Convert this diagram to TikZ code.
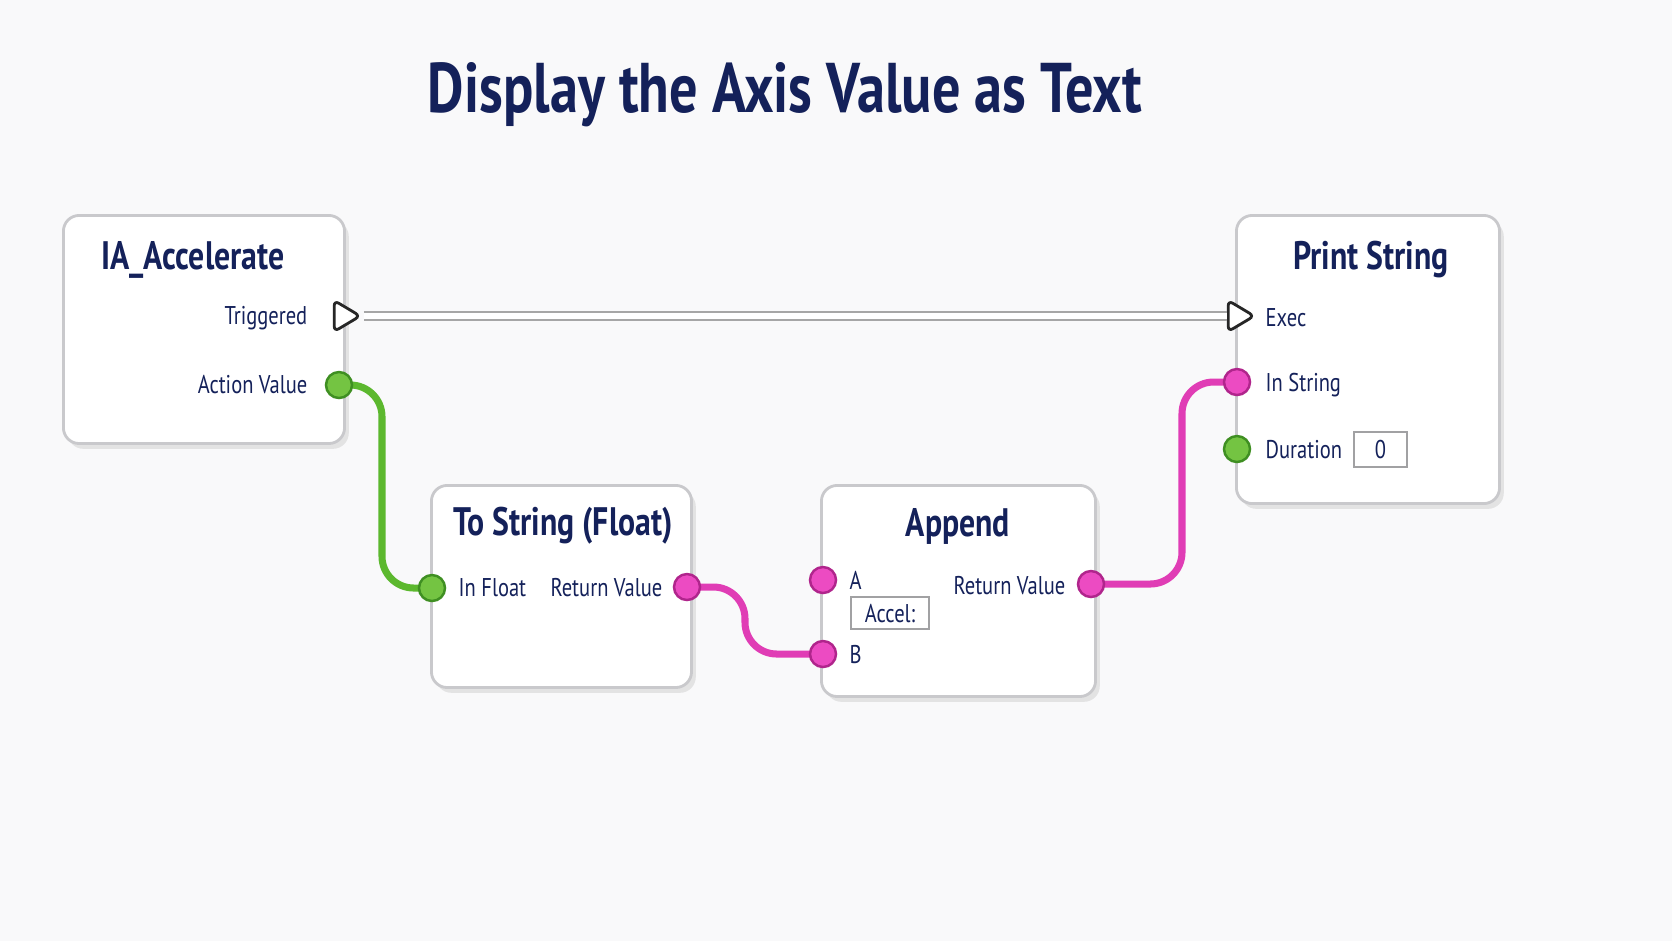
\documentclass[tikz,border=0pt]{standalone}
\usepackage{fontspec}
\setmainfont{PT Sans}[FakeStretch=0.8]
\usetikzlibrary{shapes.geometric,shadows,backgrounds,positioning}

\definecolor{ink}{HTML}{14215A}
\definecolor{paper}{HTML}{F9F9FA}
\definecolor{frame}{HTML}{C9C9CC}
\definecolor{pinGreen}{HTML}{74C442}
\definecolor{edgeGreen}{HTML}{3F8F22}
\definecolor{wireGreen}{HTML}{5CB82E}
\definecolor{pinPink}{HTML}{EC4BC2}
\definecolor{edgePink}{HTML}{B0258C}
\definecolor{wirePink}{HTML}{E03DB5}

\tikzset{
  nodebox/.style={draw=frame, line width=0.8pt, fill=white, rounded corners=4.5pt,
    anchor=north west, inner sep=0pt,
    drop shadow={opacity=0.18, shadow xshift=1.2pt, shadow yshift=-1.5pt}},
  boxtitle/.style={text=ink, font=\bfseries\fontsize{11.3}{13}\selectfont},
  lbl/.style={text=ink, font=\fontsize{7.3}{9}\selectfont, inner sep=0pt},
  valbox/.style={draw=frame!80!black, line width=0.6pt, fill=white, anchor=north west,
    text=ink, font=\fontsize{7.3}{9}\selectfont, inner sep=0pt},
  greenpin/.style={circle, minimum size=0.26cm, inner sep=0pt, fill=pinGreen,
    draw=edgeGreen, line width=0.7pt},
  pinkpin/.style={circle, minimum size=0.26cm, inner sep=0pt, fill=pinPink,
    draw=edgePink, line width=0.7pt},
  execpin/.style={isosceles triangle, isosceles triangle stretches, minimum height=0.26cm,
    minimum width=0.31cm, inner sep=0pt, fill=white, draw=black!85, line width=0.8pt,
    rounded corners=1.5pt},
  execwire/.style={draw=black!35, double=white, double distance=1.6pt, line width=0.7pt},
  greenwire/.style={draw=wireGreen, line width=2pt, rounded corners=9pt},
  pinkwire/.style={draw=wirePink, line width=2pt, rounded corners=9pt}
}

\begin{document}
\begin{tikzpicture}[x=0.01cm, y=-0.01cm]
    \useasboundingbox (0,0) rectangle (1672,941);
    \begin{scope}[on background layer]
        \fill[paper] (0,0) rectangle (1672,941);
    \end{scope}

    % Title
    \node[text=ink, font=\bfseries\fontsize{20}{24}\selectfont] (head) at (785,95) {Display the Axis Value as Text};

    % Node boxes
    \node[nodebox, minimum width=2.81cm, minimum height=2.28cm] (accel) at (62,214) {};
    \node[nodebox, minimum width=2.60cm, minimum height=2.02cm] (tostr) at (430,484) {};
    \node[nodebox, minimum width=2.74cm, minimum height=2.11cm] (append) at (820,484) {};
    \node[nodebox, minimum width=2.63cm, minimum height=2.88cm] (print) at (1235,214) {};

    \node[boxtitle] (accelT) at (193,260) {IA\_Accelerate};
    \node[boxtitle] (tostrT) at (563,526) {To String (Float)};
    \node[boxtitle] (appendT) at (958,526) {Append};
    \node[boxtitle] (printT) at (1371,260) {Print String};

    % Pins
    \node[execpin] (trig) at (343,316) {};
    \node[greenpin] (actval) at (339,385) {};
    \node[greenpin] (infloat) at (432,588) {};
    \node[pinkpin] (retstr) at (687,587) {};
    \node[pinkpin] (pinA) at (823,580) {};
    \node[pinkpin] (pinB) at (823,654) {};
    \node[pinkpin] (retapp) at (1091,584) {};
    \node[execpin] (exec) at (1237,316) {};
    \node[pinkpin] (instr) at (1237,382) {};
    \node[greenpin] (dur) at (1237,449) {};

    % Pin labels
    \node[lbl, anchor=east] (trigL) at (308,318) {Triggered};
    \node[lbl, anchor=east] (actvalL) at (308,385) {Action Value};
    \node[lbl, anchor=west] (infloatL) at (458,588) {In Float};
    \node[lbl, anchor=east] (retstrL) at (663,588) {Return Value};
    \node[lbl, anchor=west] (pinAL) at (849,580) {A};
    \node[lbl, anchor=west] (pinBL) at (849,654) {B};
    \node[lbl, anchor=east] (retappL) at (1066,586) {Return Value};
    \node[lbl, anchor=west] (execL) at (1265,318) {Exec};
    \node[lbl, anchor=west] (instrL) at (1265,385) {In String};
    \node[lbl, anchor=west] (durL) at (1265,450) {Duration};

    % Value fields
    \node[valbox, minimum width=0.78cm, minimum height=0.32cm] (accelV) at (850,596) {Accel:};
    \node[valbox, minimum width=0.53cm, minimum height=0.35cm] (durV) at (1353,431) {0};

    % Wires
    \draw[execwire] (trig.east) -- (exec.west);
    \begin{scope}[on background layer]
        \draw[greenwire] (actval.center) -- (382,385) -- (382,588) -- (infloat.center);
        \draw[pinkwire] (retstr.center) -- (745,587) -- (745,654) -- (pinB.center);
        \draw[pinkwire] (retapp.center) -- (1182,584) -- (1182,382) -- (instr.center);
    \end{scope}
\end{tikzpicture}
\end{document}
